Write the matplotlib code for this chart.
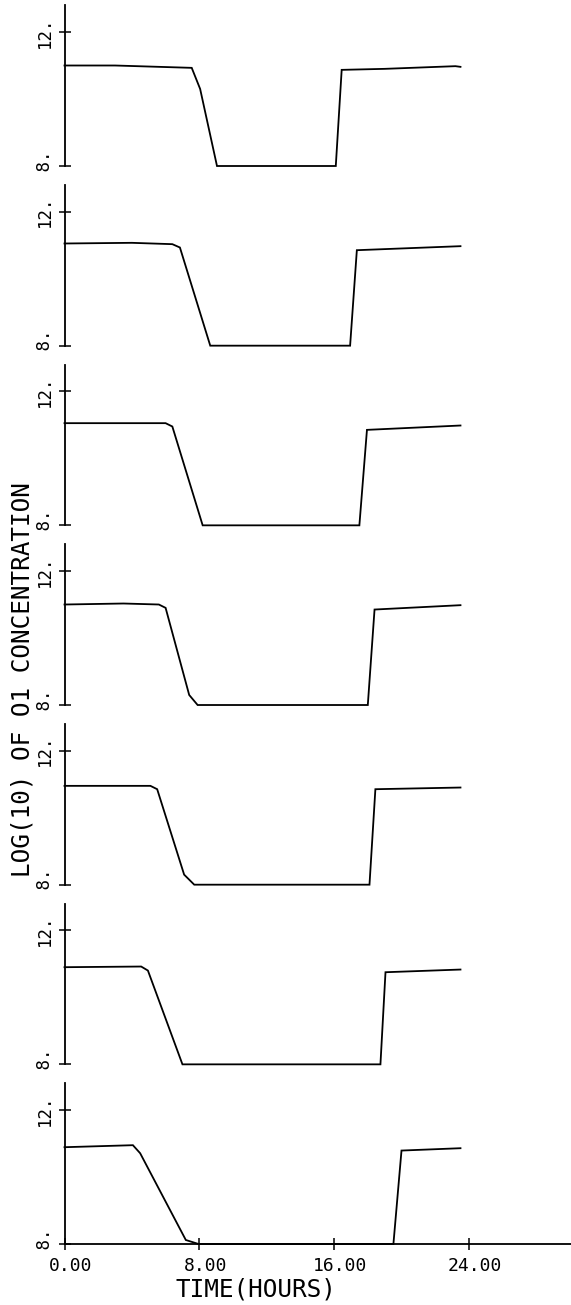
import matplotlib
matplotlib.use("Agg")
import matplotlib.pyplot as plt
from matplotlib.transforms import ScaledTranslation

# Seven simulated days of log10 O1 concentration against time of day (hours).
hours_1 = [0.0, 3.0, 7.55, 8.05, 9.05, 16.1, 16.45, 19.0, 23.2, 23.5]
conc_1 = [11.0, 11.0, 10.93, 10.3, 8.0, 8.0, 10.87, 10.9, 10.98, 10.96]

hours_2 = [0.0, 4.0, 6.4, 6.85, 8.65, 16.95, 17.35, 23.5]
conc_2 = [11.05, 11.07, 11.03, 10.93, 8.0, 8.0, 10.85, 10.97]

hours_3 = [0.0, 6.0, 6.4, 8.2, 17.5, 17.95, 23.5]
conc_3 = [11.05, 11.05, 10.95, 8.0, 8.0, 10.85, 10.98]

hours_4 = [0.0, 3.5, 5.6, 6.0, 7.4, 7.9, 18.0, 18.4, 23.5]
conc_4 = [11.0, 11.03, 11.0, 10.9, 8.3, 8.0, 8.0, 10.85, 10.98]

hours_5 = [0.0, 5.1, 5.5, 7.1, 7.7, 18.1, 18.45, 23.5]
conc_5 = [10.95, 10.95, 10.85, 8.3, 8.0, 8.0, 10.85, 10.9]

hours_6 = [0.0, 4.55, 4.95, 7.0, 18.75, 19.05, 23.5]
conc_6 = [10.9, 10.92, 10.8, 8.0, 8.0, 10.75, 10.83]

hours_7 = [0.0, 4.06, 4.49, 7.2, 7.96, 19.52, 20.0, 23.5]
conc_7 = [10.89, 10.95, 10.71, 8.12, 8.0, 8.0, 10.79, 10.86]

y_ticks = [8, 12]
y_tick_labels = [" 8.", "12."]
x_ticks = [0, 8, 16, 24]
x_tick_labels = ["0.00", "8.00", "16.00", "24.00"]
x_title = "TIME(HOURS)"
y_title = "LOG(10) OF O1 CONCENTRATION"

series = [(hours_1, conc_1), (hours_2, conc_2), (hours_3, conc_3),
          (hours_4, conc_4), (hours_5, conc_5), (hours_6, conc_6),
          (hours_7, conc_7)]

W, H = 571, 1305
DPI = 100
FONT = "DejaVu Sans Mono"

fig = plt.figure(figsize=(W / DPI, H / DPI), dpi=DPI)

x0_px = 64.5          # left edge of every panel
px_per_hour = 16.85
px_per_unit = 33.5
pitch = 179.67        # vertical distance between panels
first_base = 166.0    # pixel row of the y=8 line in the top panel
y_lo, y_hi = 8.0, 12.8

n = len(series)
for i, (t, c) in enumerate(series):
    base = first_base + pitch * i
    height = (y_hi - y_lo) * px_per_unit
    ax = fig.add_axes([x0_px / W, 1 - base / H, 1 - x0_px / W, height / H])
    ax.set_xlim(0, (W - x0_px) / px_per_hour)
    ax.set_ylim(y_lo, y_hi)
    ax.patch.set_visible(False)
    ax.plot(t, c, color="black", lw=1.3, clip_on=False,
            solid_joinstyle="miter")

    ax.spines["top"].set_visible(False)
    ax.spines["right"].set_visible(False)
    ax.spines["left"].set_linewidth(1.3)

    ax.set_yticks(y_ticks)
    ax.set_yticklabels(y_tick_labels, rotation=90, va="center",
                       family=FONT, fontsize=12.5)
    ax.tick_params(axis="y", direction="inout", length=8.5, width=1.1,
                   pad=3.5)

    last = i == n - 1
    if last:
        ax.spines["bottom"].set_linewidth(1.3)
        ax.set_xticks(x_ticks)
        ax.set_xticklabels(x_tick_labels, family=FONT, fontsize=13)
        ax.tick_params(axis="x", direction="inout", length=8.5, width=1.1,
                       pad=5)
        shift = ScaledTranslation(6 / DPI, 0, fig.dpi_scale_trans)
        for lab in ax.get_xticklabels():
            lab.set_transform(lab.get_transform() + shift)
    else:
        ax.spines["bottom"].set_visible(False)
        ax.set_xticks([])

fig.text(256 / W, 1 - 1289 / H, x_title, ha="center", va="center",
         family=FONT, fontsize=17.6)
fig.text(22.5 / W, 1 - 680 / H, y_title, ha="center", va="center",
         rotation=90, family=FONT, fontsize=17.6)

fig.savefig("out.png", dpi=DPI, facecolor="white")
